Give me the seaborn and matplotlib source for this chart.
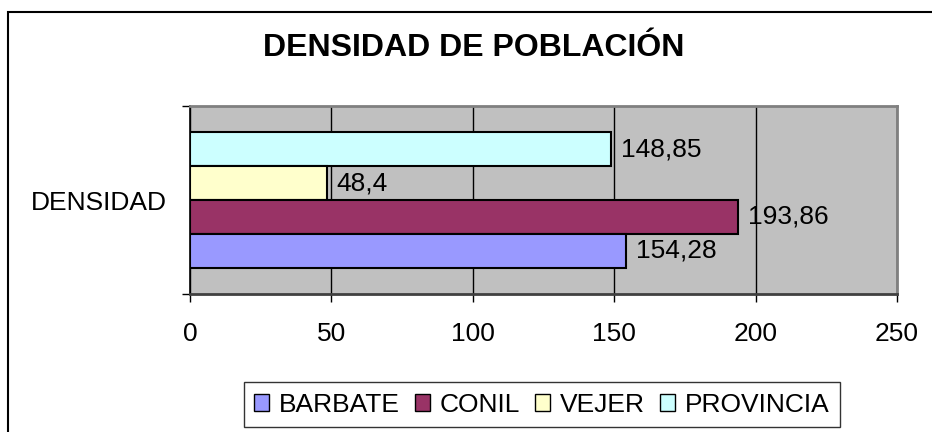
import numpy as np
import pandas as pd
import matplotlib
matplotlib.use("Agg")
import matplotlib.pyplot as plt
from matplotlib.patches import Patch, Rectangle
import seaborn as sns

# data
categoria = "DENSIDAD"
municipios = ["BARBATE", "CONIL", "VEJER", "PROVINCIA"]
densidad = [154.28, 193.86, 48.4, 148.85]
colores = ["#9999FF", "#993366", "#FFFFCC", "#CCFFFF"]
xticks = [0, 50, 100, 150, 200, 250]

sns.set_style("white")
plt.rcParams["font.family"] = ["Liberation Sans", "DejaVu Sans"]
plt.rcParams["text.color"] = "black"
plt.rcParams["xtick.color"] = "black"
plt.rcParams["ytick.color"] = "black"
plt.rcParams["axes.labelcolor"] = "black"

df = pd.DataFrame({"cat": categoria, "municipio": municipios, "valor": densidad})
paleta = dict(zip(municipios, colores))
# excel draws the first series at the bottom
orden = municipios[::-1]

fig = plt.figure(figsize=(9.32, 4.32), dpi=100)
ax = fig.add_axes([190 / 932, 1 - 294 / 432, 707 / 932, 188 / 432])
ax.set_facecolor("#C0C0C0")

sns.barplot(
    data=df, x="valor", y="cat", hue="municipio", hue_order=orden,
    palette=paleta, saturation=1, orient="h", width=0.72, edgecolor="black",
    linewidth=1.5, legend=False, ax=ax,
)

for cont in ax.containers:
    vals = [r.get_width() for r in cont]
    ax.bar_label(cont, labels=[f"{v:g}".replace(".", ",") for v in vals],
                 padding=7, fontsize=19, color="black")

ax.set_xlim(0, 250)
ax.set_ylim(0.5, -0.5)
ax.set_xticks(xticks)
ax.set_xticklabels([str(t) for t in xticks], fontsize=19)
ax.set_yticks([-0.5, 0.5], labels=["", ""])
ax.set_yticks([0], labels=[categoria], minor=True)
ax.tick_params(axis="y", which="minor", left=True, length=0, pad=16.5, labelsize=19)
ax.tick_params(axis="y", which="major", left=True, length=6, width=1,
               color="black", direction="out")
ax.tick_params(axis="x", bottom=True, length=6, width=1, color="black",
               direction="out", pad=14)
ax.set_xlabel("")
ax.set_ylabel("")

ax.xaxis.grid(True, color="black", linewidth=1)
ax.set_axisbelow(True)

for s in ["top", "right"]:
    ax.spines[s].set_color("#808080")
    ax.spines[s].set_linewidth(2)
ax.spines["left"].set_color("black")
ax.spines["left"].set_linewidth(1.2)
ax.spines["bottom"].set_color("#404040")
ax.spines["bottom"].set_linewidth(2)

fig.text(474 / 932, 1 - 48 / 432, "DENSIDAD DE POBLACIÓN", ha="center", va="center",
         fontsize=23, fontweight="bold")

handles = [Patch(facecolor=paleta[m], edgecolor="black", linewidth=1) for m in municipios]
leg = fig.legend(
    handles, municipios, ncol=4, loc="center",
    bbox_to_anchor=(542 / 932, 1 - 404.5 / 432), fontsize=19,
    frameon=True, fancybox=False, edgecolor="black",
    handlelength=0.55, handleheight=0.62, handletextpad=0.38,
    columnspacing=0.58, borderpad=0.4,
)
leg.get_frame().set_linewidth(1)

# chart area border (only left and top are inside the image)
fig.add_artist(Rectangle((8 / 932, -0.2), 1.2, 1.2 - 12 / 432,
                         transform=fig.transFigure, fill=False,
                         edgecolor="black", linewidth=1.5))

fig.savefig("out.png", dpi=100)
